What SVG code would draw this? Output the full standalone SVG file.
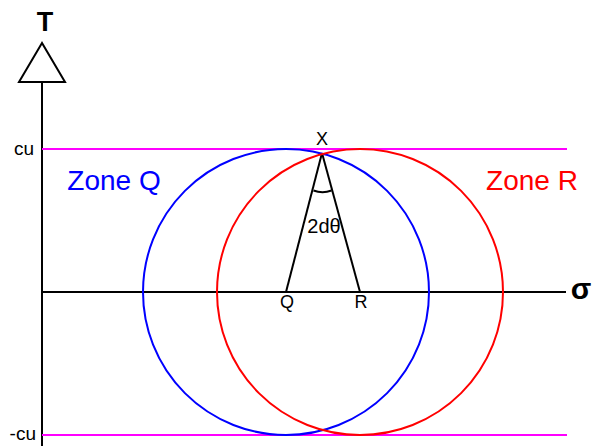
<svg xmlns="http://www.w3.org/2000/svg" width="592" height="448" viewBox="0 0 592 448">
<style>
text{font-family:"Liberation Sans",Arial,sans-serif;}
.ax{stroke:#000;stroke-width:2;fill:none}
.mg{stroke:#ff00ff;stroke-width:2}
</style>
<rect width="592" height="448" fill="#fff"/>
<g id="connectors">
<line class="ax" x1="42" y1="82" x2="42" y2="446"/>
<polygon class="ax" fill="#fff" points="42,43 19,82 65,82"/>
<line class="ax" x1="42" y1="292" x2="566" y2="292"/>
<line class="mg" x1="42" y1="149" x2="567" y2="149"/>
<line class="mg" x1="42" y1="435" x2="567" y2="435"/>
<line class="ax" x1="286" y1="292" x2="322" y2="153"/>
<line class="ax" x1="360" y1="292" x2="322" y2="153"/>
<path class="ax" d="M313.5 190.5 Q322.5 194 331.5 190.5"/>
</g>
<g id="circleQ"><circle cx="286" cy="292" r="143" fill="none" stroke="#0000ff" stroke-width="2"/></g>
<g id="circleR"><circle cx="360" cy="292" r="143" fill="none" stroke="#ff0000" stroke-width="2"/></g>
<g id="labels">
<text x="45" y="31" font-size="27" font-weight="bold" text-anchor="middle">T</text>
<text x="581" y="299" font-size="30" font-weight="bold" text-anchor="middle">σ</text>
<text x="34" y="155" font-size="19" text-anchor="end">cu</text>
<text x="36" y="440" font-size="19" text-anchor="end">-cu</text>
<text x="322" y="145" font-size="18" text-anchor="middle">X</text>
<text x="324" y="233" font-size="20" text-anchor="middle">2dθ</text>
<text x="287" y="308" font-size="18" text-anchor="middle">Q</text>
<text x="361" y="308" font-size="18" text-anchor="middle">R</text>
<text x="114" y="190" font-size="28" fill="#0000ff" text-anchor="middle">Zone Q</text>
<text x="532" y="190" font-size="28" fill="#ff0000" text-anchor="middle">Zone R</text>
</g>
</svg>
